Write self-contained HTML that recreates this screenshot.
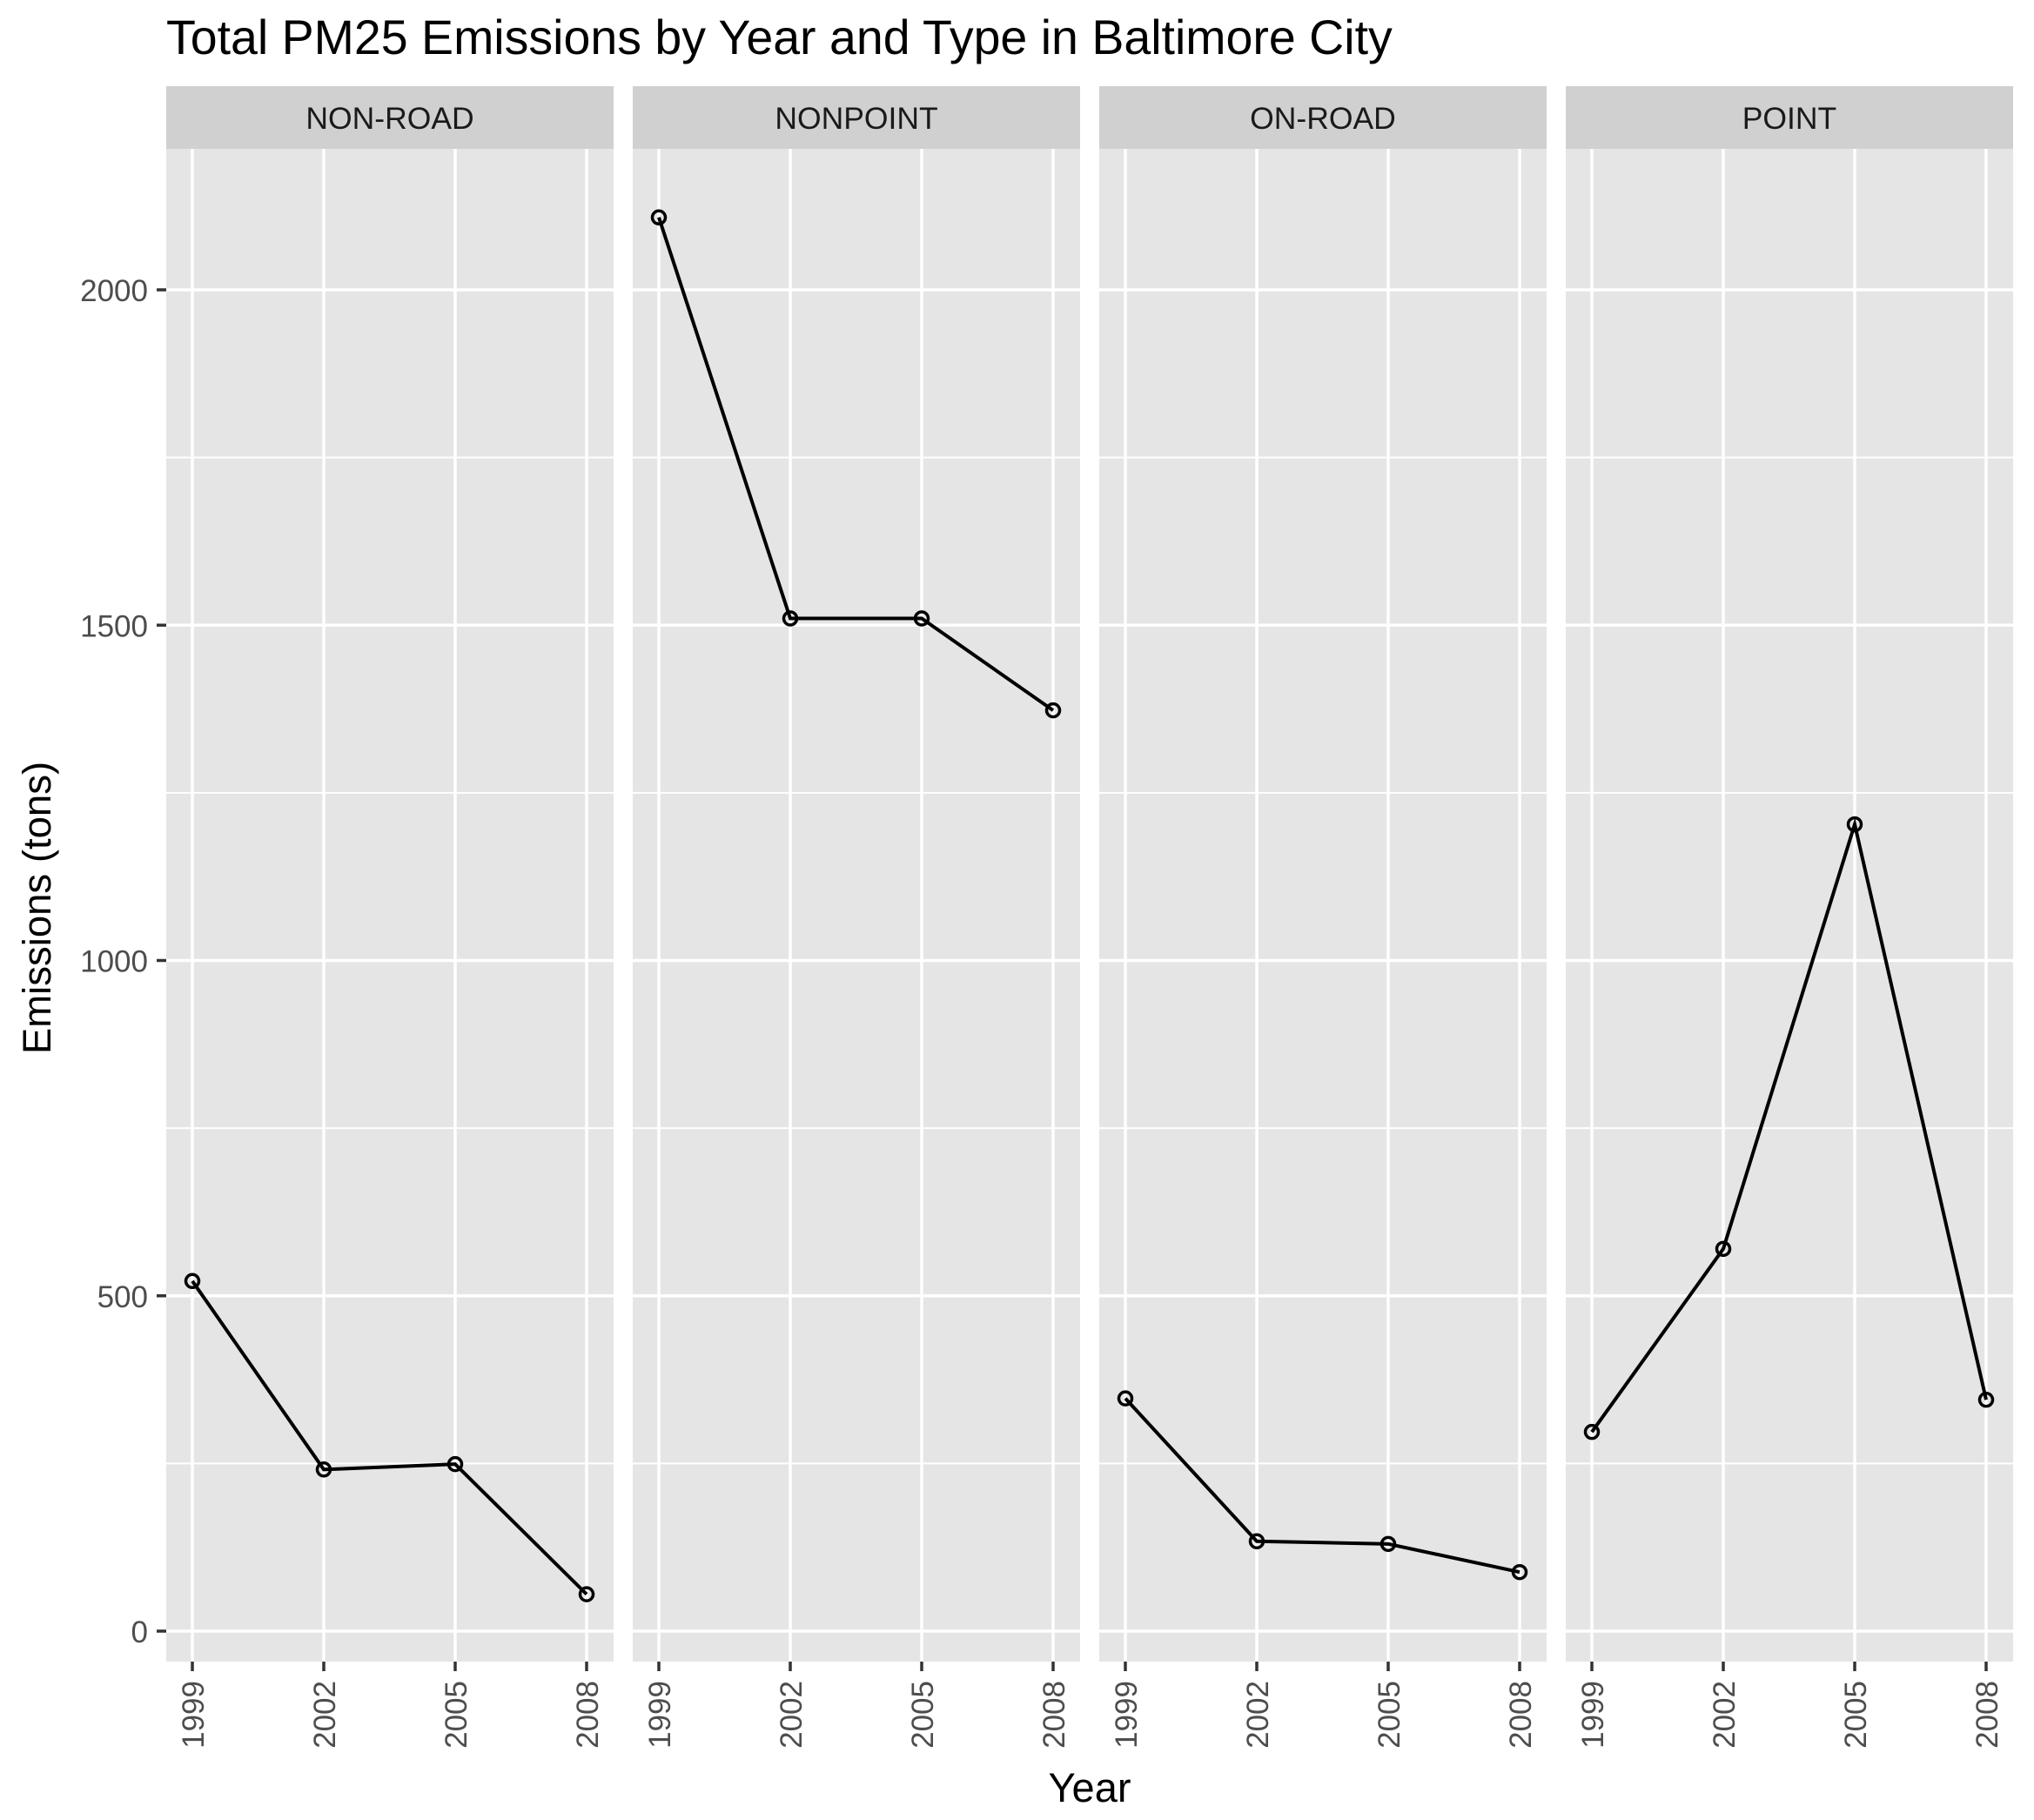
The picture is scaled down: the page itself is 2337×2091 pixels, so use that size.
<!DOCTYPE html>
<html><head><meta charset="utf-8"><style>html,body{margin:0;padding:0;background:#fff}svg{display:block}</style></head>
<body>
<svg id="chart" width="2337" height="2091" xmlns="http://www.w3.org/2000/svg" font-family="Liberation Sans, sans-serif">
<text x="191" y="62" font-size="55.5" fill="#000">Total PM25 Emissions by Year and Type in Baltimore City</text>
<text x="1252" y="2070" font-size="47" text-anchor="middle" fill="#000">Year</text>
<text transform="translate(58,1043) rotate(-90)" font-size="45.5" text-anchor="middle" fill="#000">Emissions (tons)</text>
<g id="panels"></g>
</svg>
<script>
const panelNames = ["NON-ROAD", "NONPOINT", "ON-ROAD", "POINT"];
const years = [1999, 2002, 2005, 2008];
const nonRoad = [522, 241, 249, 55];
const nonPoint = [2108, 1510, 1510, 1373];
const onRoad = [347, 134, 130, 88];
const point = [297, 570, 1203, 345];
const yTicks = [0, 500, 1000, 1500, 2000];
const yMinor = [250, 750, 1250, 1750];
const seriesList = [nonRoad, nonPoint, onRoad, point];

const NS = "http://www.w3.org/2000/svg";
const g = document.getElementById("panels");
const pW = 514, gap = 22, left0 = 191, pTop = 171, pBot = 1909, sTop = 99;
const yScale = v => 1874 - v * (1874 - 333) / 2000;
function mk(tag, attrs, parent) {
  const e = document.createElementNS(NS, tag);
  for (const k in attrs) e.setAttribute(k, attrs[k]);
  (parent || g).appendChild(e);
  return e;
}
panelNames.forEach((name, i) => {
  const L = left0 + i * (pW + gap);
  const xScale = y => L + 30 + (y - 1999) * (pW - 61) / 9;
  const pg = mk("g", {});
  
  
  const bg = mk("rect", {x: L, y: pTop, width: pW, height: pBot - pTop, fill: "#e5e5e5"}, pg);
  
  
  const st = mk("rect", {x: L, y: sTop, width: pW, height: pTop - sTop, fill: "#d0d0d0"}, pg);
  
  
  const stt = mk("text", {x: L + pW / 2, y: 148, "font-size": 35.5, "text-anchor": "middle", fill: "#1a1a1a"}, pg);
  stt.textContent = name;
  
  
  yMinor.forEach(v => {
    const ln = mk("line", {x1: L, x2: L + pW, y1: yScale(v), y2: yScale(v), stroke: "#fff", "stroke-width": 2}, pg);
    
    
  });
  yTicks.forEach(v => {
    const ln = mk("line", {x1: L, x2: L + pW, y1: yScale(v), y2: yScale(v), stroke: "#fff", "stroke-width": 3.5}, pg);
    
    
  });
  years.forEach(yr => {
    const x = xScale(yr);
    const ln = mk("line", {x1: x, x2: x, y1: pTop, y2: pBot, stroke: "#fff", "stroke-width": 3.5}, pg);
    
    
    const tk = mk("line", {x1: x, x2: x, y1: pBot, y2: pBot + 11, stroke: "#333", "stroke-width": 3.5}, pg);
    
    
    const t = mk("text", {transform: `translate(${x + 13},${pBot + 22}) rotate(-90)`, "font-size": 35, "text-anchor": "end", fill: "#4d4d4d"}, pg);
    t.textContent = yr;
    
    
  });
  const vals = seriesList[i];
  const pts = vals.map((v, j) => xScale(years[j]) + "," + yScale(v)).join(" ");
  const pl = mk("polyline", {points: pts, fill: "none", stroke: "#000", "stroke-width": 4}, pg);
  
  
  vals.forEach((v, j) => {
    const c = mk("circle", {cx: xScale(years[j]), cy: yScale(v), r: 7.5, fill: "none", stroke: "#000", "stroke-width": 3.5}, pg);
    
    
  });
});
yTicks.forEach(v => {
  const y = yScale(v);
  const tk = mk("line", {x1: 180, x2: 191, y1: y, y2: y, stroke: "#333", "stroke-width": 3.5});
  
  
  const t = mk("text", {x: 170, y: y + 13, "font-size": 35, "text-anchor": "end", fill: "#4d4d4d"});
  t.textContent = v;
  
  
});
</script>
</body></html>
